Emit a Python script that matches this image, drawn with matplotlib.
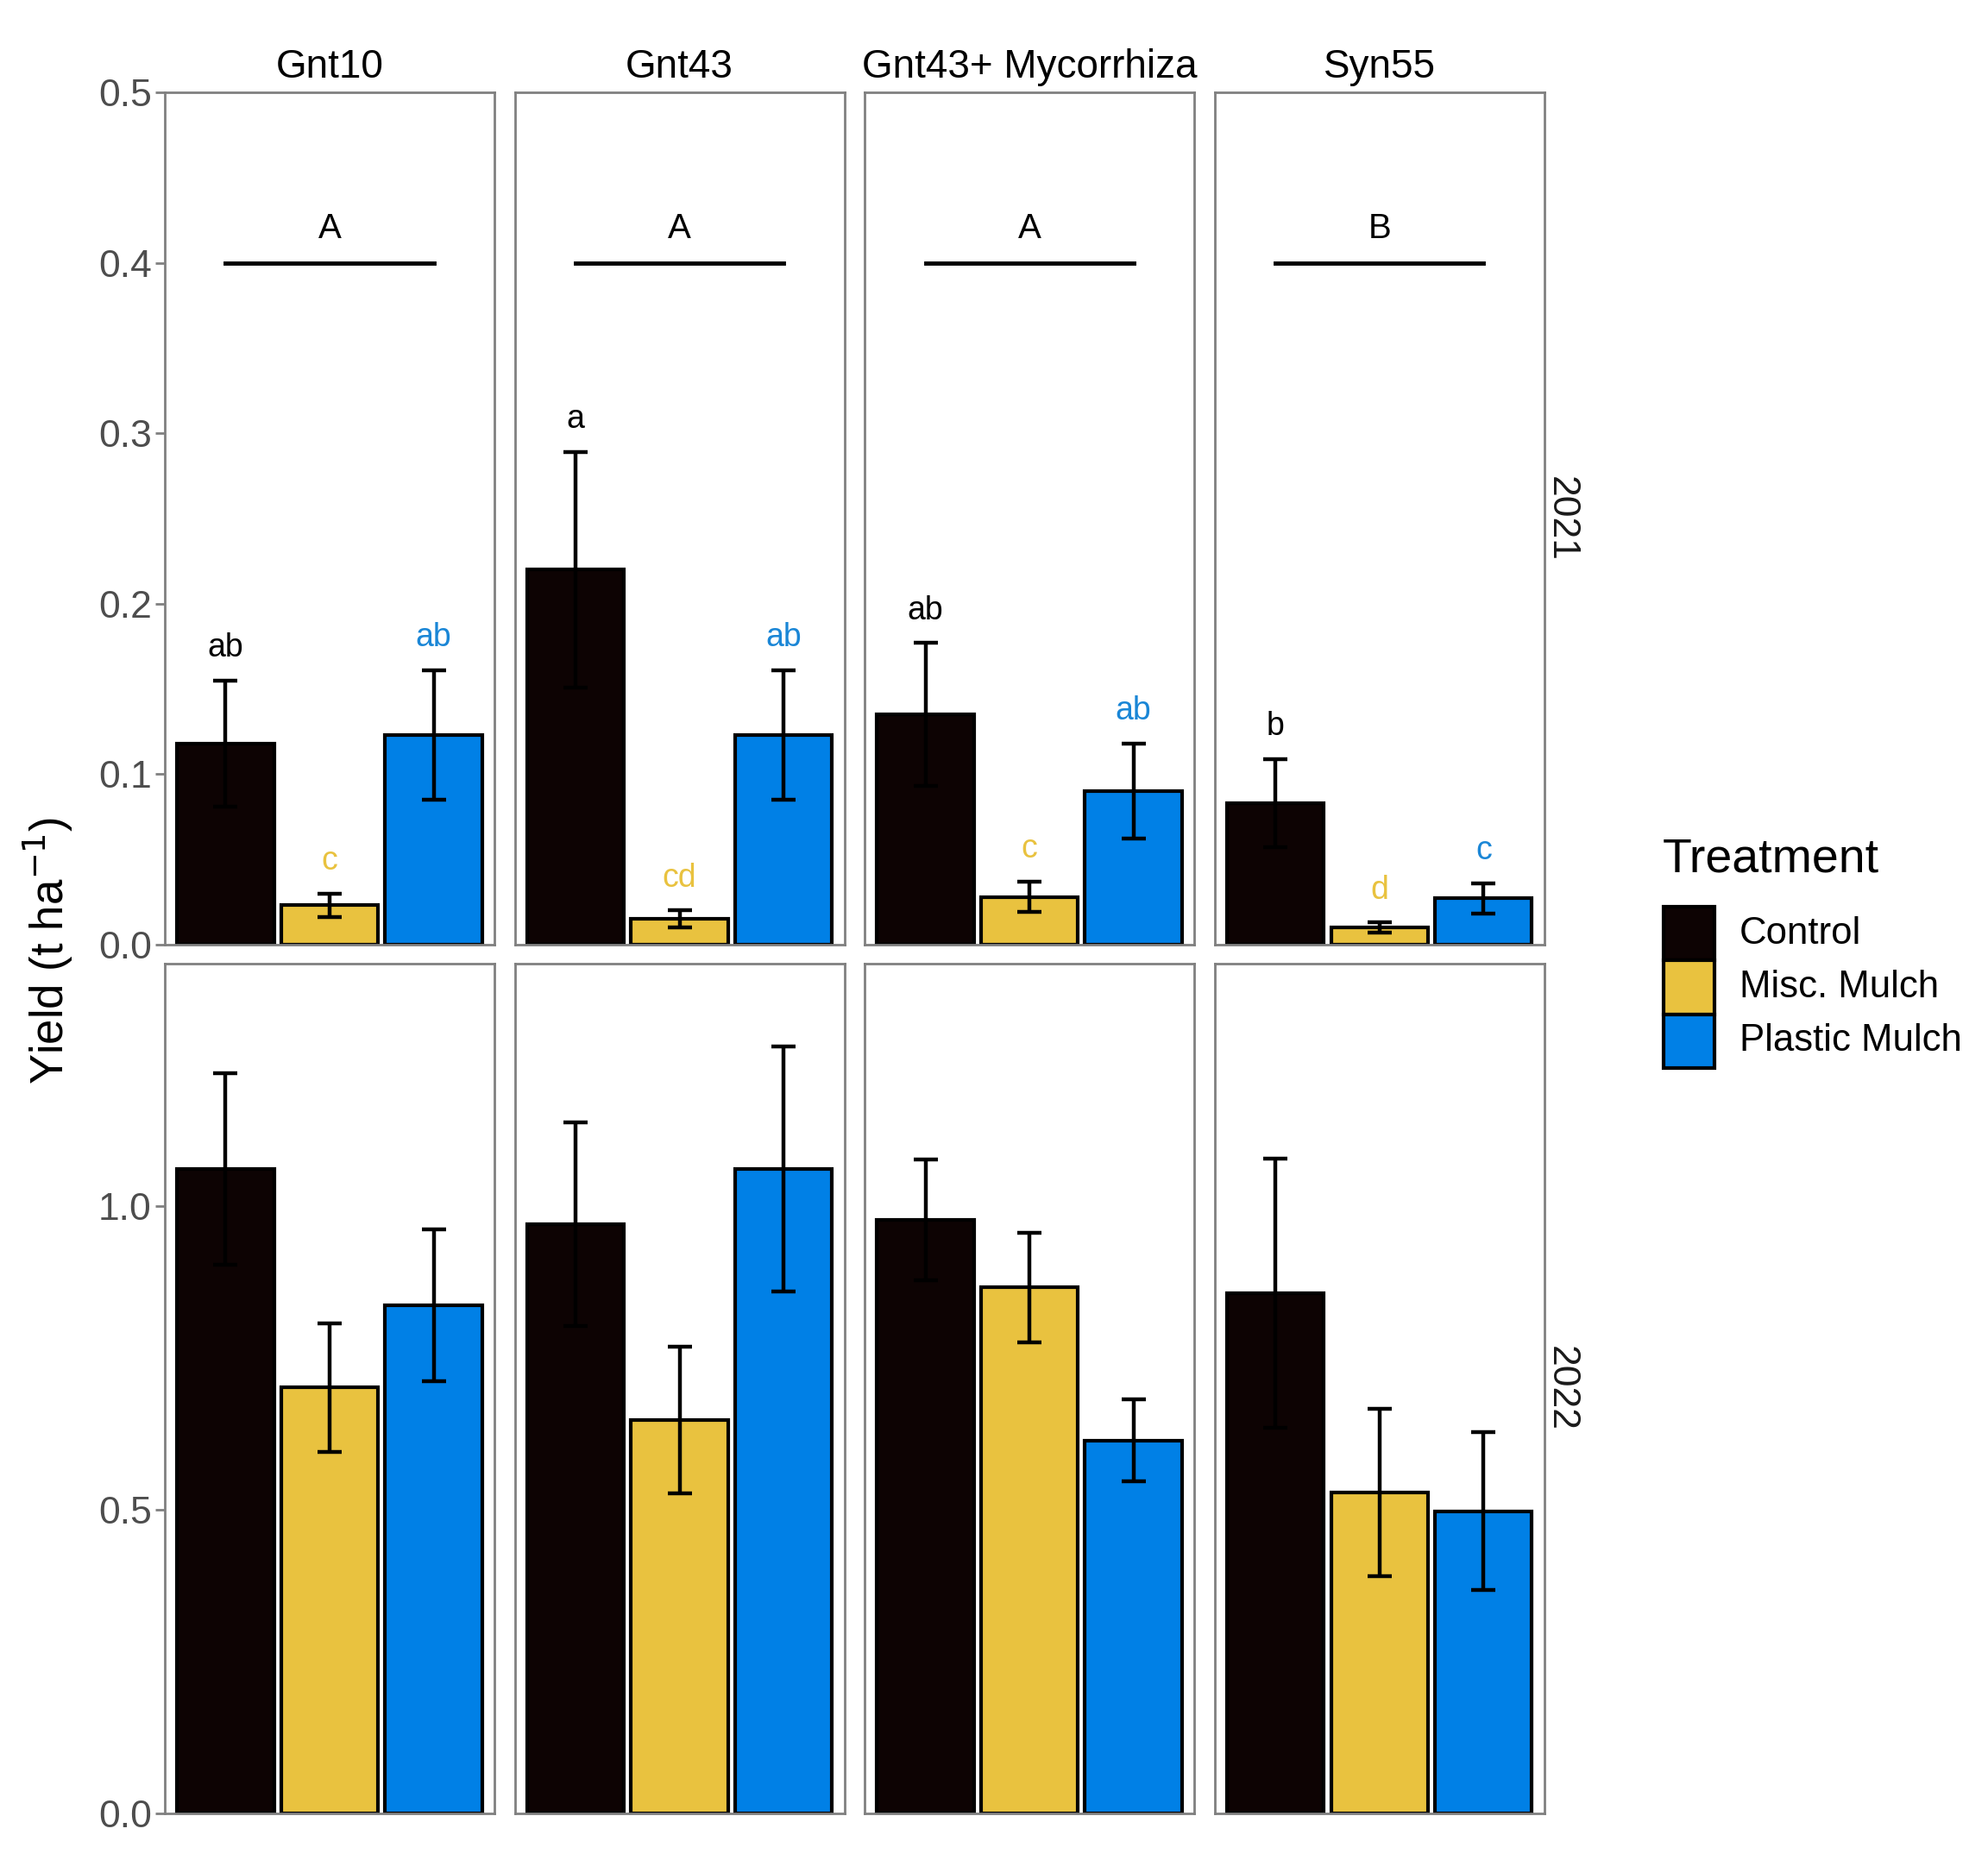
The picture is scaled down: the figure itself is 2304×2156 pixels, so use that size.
import numpy as np
import matplotlib
matplotlib.use("Agg")
from matplotlib import pyplot as plt
from matplotlib.patches import Rectangle

# data
cultivars = ["Gnt10", "Gnt43", "Gnt43+ Mycorrhiza", "Syn55"]
treatments = ["Control", "Misc. Mulch", "Plastic Mulch"]
years = ["2021", "2022"]
colors = ["#0d0303", "#e9c23f", "#0080e6"]
label_colors = ["#000000", "#e9c23f", "#1a86d6"]

# means and error half-widths per cultivar (Control, Misc, Plastic)
mean_2021 = [[0.118, 0.023, 0.123],
             [0.220, 0.015, 0.123],
             [0.135, 0.028, 0.090],
             [0.083, 0.010, 0.027]]
err_2021 = [[0.037, 0.007, 0.038],
            [0.069, 0.005, 0.038],
            [0.042, 0.009, 0.028],
            [0.026, 0.003, 0.009]]
mean_2022 = [[1.061, 0.701, 0.836],
             [0.970, 0.647, 1.061],
             [0.977, 0.866, 0.614],
             [0.856, 0.528, 0.497]]
err_2022 = [[0.158, 0.106, 0.125],
            [0.167, 0.121, 0.202],
            [0.100, 0.090, 0.068],
            [0.222, 0.138, 0.130]]
letters_2021 = [["ab", "c", "ab"],
                ["a", "cd", "ab"],
                ["ab", "c", "ab"],
                ["b", "d", "c"]]
group_2021 = ["A", "A", "A", "B"]

W, H = 2304, 2156
fig = plt.figure(figsize=(W / 100, H / 100), dpi=100)
plt.rcParams["font.family"] = ["Liberation Sans", "DejaVu Sans"]

lefts = [0.0829, 0.2589, 0.4349, 0.6110]
pw = 0.1658
rows = [(0.4922, 0.4581), (0.0252, 0.4567)]
ylims = [(0, 0.5), (0, 1.399)]
yticks = [[0.0, 0.1, 0.2, 0.3, 0.4, 0.5], [0.0, 0.5, 1.0]]
border = "#808080"
x = np.arange(1, 4)

for r, (bot, ht) in enumerate(rows):
    means = mean_2021 if r == 0 else mean_2022
    errs = err_2021 if r == 0 else err_2022
    for c in range(4):
        ax = fig.add_axes([lefts[c], bot, pw, ht])
        ax.bar(x, means[c], width=0.93, color=colors, edgecolor="black",
               linewidth=3, zorder=2)
        ax.errorbar(x, means[c], yerr=errs[c], fmt="none", ecolor="black",
                    elinewidth=3.2, capsize=10, capthick=3.2, zorder=3)
        ax.set_xlim(0.415, 3.585)
        ax.set_ylim(*ylims[r])
        ax.set_xticks([])
        for s in ax.spines.values():
            s.set_color(border)
            s.set_linewidth(2)
        if c == 0:
            ax.set_yticks(yticks[r])
            ax.set_yticklabels(["%.1f" % v for v in yticks[r]])
            ax.tick_params(axis="y", length=8, width=2, color=border,
                           labelsize=32, labelcolor="#4d4d4d", pad=3)
        else:
            ax.set_yticks([])
        if r == 0:
            ax.set_title(cultivars[c], fontsize=33, pad=12)
            ax.plot([1, 3], [0.4, 0.4], color="black", lw=3.5, zorder=3)
            ax.text(2, 0.42, group_2021[c], ha="center", va="center",
                    fontsize=29)
            for i in range(3):
                ax.text(x[i], means[c][i] + errs[c][i] + 0.019,
                        letters_2021[c][i], ha="center", va="center",
                        fontsize=27, color=label_colors[i])
        if c == 3:
            ax.text(1.05, 0.5, years[r], transform=ax.transAxes,
                    rotation=-90, ha="center", va="center", fontsize=32,
                    color="#1a1a1a")

fig.text(0.024, 0.489, r"Yield (t ha$^{-1}$)", rotation=90, ha="center",
         va="center", fontsize=38)

# legend
fig.text(1311 / 1568, 1 - 678 / 1467, "Treatment", ha="left", va="center",
         fontsize=40)
key_top = 715
key_h = 42.5
for i, t in enumerate(treatments):
    y0 = 1 - (key_top + (i + 1) * key_h) / 1467
    fig.patches.append(Rectangle((1312 / 1568, y0), 40 / 1568, key_h / 1467,
                                 transform=fig.transFigure, facecolor=colors[i],
                                 edgecolor="black", linewidth=3))
    fig.text(1372 / 1568, y0 + key_h / 2 / 1467, t, ha="left", va="center",
             fontsize=31.5)

plt.savefig("out.png", dpi=100)
